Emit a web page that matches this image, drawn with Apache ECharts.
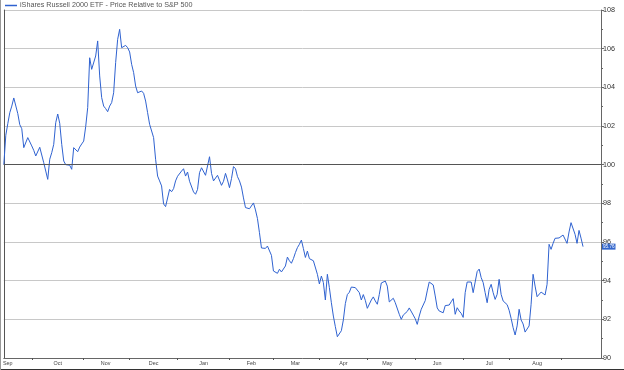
<!DOCTYPE html>
<html>
<head>
<meta charset="utf-8">
<script src="https://cdn.jsdelivr.net/npm/echarts@6/dist/echarts.min.js"></script>
<style>
html,body{margin:0;padding:0;background:#fff;}
#chart{width:624px;height:370px;}
</style>
</head>
<body>
<div id="chart"></div>
<script>
const seriesName = 'iShares Russell 2000 ETF - Price Relative to S&P 500';
const monthLabels = ['Sep','Oct','Nov','Dec','Jan','Feb','Mar','Apr','May','Jun','Jul','Aug'];
const monthLabelIndex = [2,27,51,75,100,124,146,170,192,217,243,267];
const monthTickIndex = [14,40,63,87,113,135,158,182,206,230,253,279];
const totalSlots = 300;
const relValues = [
100, 101.52, 102.12, 102.69, 103.03, 103.45, 103.38, 102.64, 102.07, 101.86,
100.88, 100.79, 101.40, 101.38, 100.97, 100.74, 100.45, 100.48, 100.90, 100.83,
100.10, 99.67, 99.24, 100.28, 100.62, 101.05, 102.17, 102.62, 102.14, 101.05,
100.19, 100.0, 99.97, 99.97, 99.76, 100.88, 100.79, 100.67, 100.91, 101.07,
101.22, 101.97, 102.95, 105.53, 104.93, 104.9, 105.62, 106.4, 104.59, 103.47,
103.03, 102.90, 102.74, 103.03, 103.21, 103.72, 105.28, 106.48, 107.0, 106.05,
106.14, 106.17, 106.05, 105.83, 105.19, 104.76, 104.07, 103.72, 103.81, 103.81,
103.69, 103.29, 102.69, 102.09, 102.0, 101.40, 100.28, 99.41, 99.16, 98.90,
97.97, 97.83, 97.83, 98.72, 98.60, 98.76, 99.16, 99.40, 99.48, 99.67,
99.79, 99.41, 99.62, 99.14, 99.07, 98.59, 98.47, 98.72, 99.59, 99.84,
99.79, 99.45, 99.55, 100.41, 99.55, 99.16, 99.16, 99.45, 99.45, 98.93,
99.14, 99.55, 99.21, 98.81, 99.28, 99.90, 99.79, 99.38, 99.16, 98.84,
98.28, 97.78, 97.72, 97.72, 97.76, 98.02, 97.66, 97.21, 96.48, 95.69,
95.60, 95.67, 95.79, 95.79, 95.31, 94.50, 94.41, 94.38, 94.59, 94.45,
94.50, 94.76, 95.22, 95.03, 94.90, 95.14, 95.45, 95.71, 95.88, 96.10,
95.66, 95.20, 95.53, 95.14, 95.10, 95.03, 94.97, 94.33, 93.83, 94.24,
93.90, 93.00, 94.33, 93.64, 92.86, 92.17, 91.62, 91.10, 91.03, 91.41,
91.97, 92.81, 93.28, 93.40, 93.67, 93.72, 93.64, 93.57, 93.38, 93.00,
93.28, 92.98, 92.57, 92.59, 93.00, 93.16, 92.95, 92.78, 93.29, 93.88,
93.95, 93.98, 93.72, 92.90, 92.97, 93.09, 92.86, 92.90, 92.26, 92.00,
92.22, 92.29, 92.41, 92.59, 92.52, 92.22, 92.03, 91.74, 92.17, 92.52,
92.57, 92.97, 93.47, 93.93, 93.95, 93.78, 93.21, 92.59, 92.43, 92.34,
92.34, 92.71, 92.72, 92.74, 92.91, 93.07, 92.26, 92.60, 92.43, 92.31,
92.10, 93.38, 93.93, 93.95, 93.93, 93.38, 93.93, 94.47, 94.60, 94.16,
93.90, 93.38, 92.86, 93.55, 93.81, 93.38, 93.03, 93.29, 94.07, 93.29,
92.95, 92.91, 92.76, 92.47, 92.05, 91.57, 91.19, 91.66, 92.52, 91.97,
91.76, 91.34, 91.28, 91.66, 92.78, 94.33, 93.72, 93.17, 93.26, 93.41,
93.34, 93.26, 93.81, 95.88, 95.62, 95.93, 96.19, 96.14, 96.21, 96.31,
96.36, 96.40, 95.93, 96.52, 97.00, 96.97, 96.40, 95.93, 96.60, 96.20,
95.76
];
const yMin = 90, yMax = 108, yStep = 2, baseLine = 100;

const categories = [];
for (let i = 0; i < totalSlots; i++) {
  const k = monthLabelIndex.indexOf(i);
  categories.push(k >= 0 ? monthLabels[k] : '');
}
const lastValue = relValues[relValues.length - 1];
const FONT = '"Liberation Sans", Arial, sans-serif';

const chart = echarts.init(document.getElementById('chart'), null, {renderer: 'canvas'});
chart.setOption({
  animation: false,
  backgroundColor: '#fff',
  legend: {
    show: true, left: 5, top: 2, padding: 0, icon: 'rect',
    itemWidth: 12, itemHeight: 1.5, itemGap: 0,
    textStyle: {fontSize: 7.2, color: '#555', fontFamily: FONT, padding: [0, 0, 0, -2]},
    data: [seriesName]
  },
  grid: {left: 3, right: 23, top: 10, bottom: 12, containLabel: false},
  xAxis: {
    type: 'category', data: categories, boundaryGap: false,
    axisLine: {show: true, lineStyle: {color: '#666', width: 1}},
    axisTick: {show: true, length: 2, lineStyle: {color: '#555'},
      interval: function (index) { return monthTickIndex.indexOf(index) >= 0; }},
    axisLabel: {show: true, fontSize: 5.4, color: '#444', fontFamily: FONT, margin: 3,
      interval: function (index, value) { return value !== ''; }},
    splitLine: {show: false}
  },
  yAxis: [{
    type: 'value', position: 'right', min: yMin, max: yMax, interval: yStep,
    axisLine: {show: true, lineStyle: {color: '#666', width: 1}},
    axisTick: {show: true, length: 3, lineStyle: {color: '#666'}},
    minorTick: {show: true, splitNumber: 2, length: 2, lineStyle: {color: '#666'}},
    axisLabel: {fontSize: 7.2, color: '#333', fontFamily: FONT, margin: 2},
    splitLine: {show: true, lineStyle: {color: '#c8c8c8', width: 1}}
  }, {
    type: 'value', position: 'left', min: yMin, max: yMax, interval: yStep,
    axisLine: {show: true, lineStyle: {color: '#555', width: 1}},
    axisTick: {show: false}, axisLabel: {show: false}, splitLine: {show: false}
  }],
  series: [{
    name: seriesName, type: 'line', data: relValues,
    showSymbol: false, symbol: 'none',
    lineStyle: {color: '#2f62d0', width: 1},
    itemStyle: {color: '#2f62d0'},
    markLine: {
      silent: true, symbol: 'none', animation: false,
      data: [
        {yAxis: baseLine, lineStyle: {color: '#555', width: 1, type: 'solid'}, label: {show: false}},
        {yAxis: lastValue, lineStyle: {color: 'rgba(0,0,0,0)', width: 1},
          label: {show: true, position: 'end', distance: 1,
            formatter: lastValue.toFixed(2), fontSize: 4.6, color: '#fff',
            backgroundColor: '#3366cc', padding: [0.5, 1], fontFamily: FONT}}
      ]
    }
  }],
  graphic: [
    {type: 'line', shape: {x1: 0, y1: 369.5, x2: 624, y2: 369.5}, style: {stroke: '#333', lineWidth: 1}},
    {type: 'line', shape: {x1: 0.5, y1: 0, x2: 0.5, y2: 370}, style: {stroke: '#999', lineWidth: 1}}
  ]
});
</script>
</body>
</html>
